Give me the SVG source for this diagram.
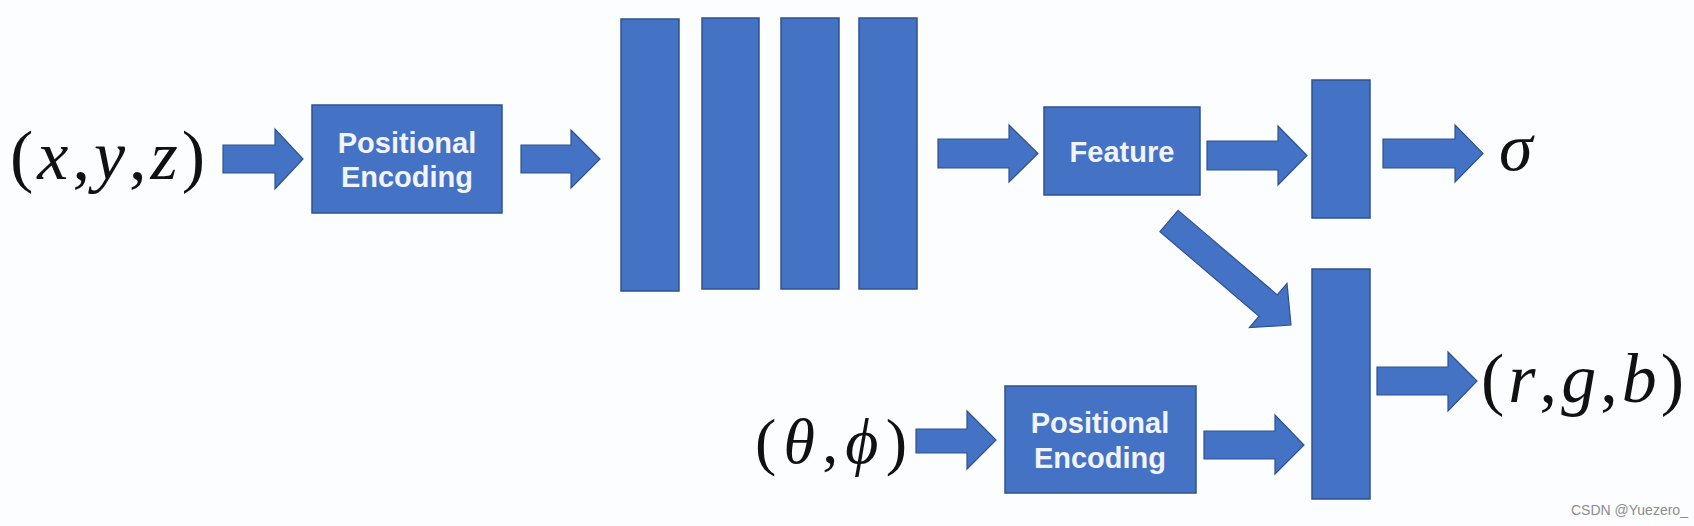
<svg xmlns="http://www.w3.org/2000/svg" width="1694" height="526" viewBox="0 0 1694 526">
<style>
.blk{fill:#4472C4;stroke:#2F528F;stroke-width:1.5}
.arr{fill:#4472C4;stroke:#2F528F;stroke-width:1.2}
.lbl{font-family:"Liberation Sans",Arial,sans-serif;font-weight:bold;font-size:29px;fill:#F2F4FA;text-anchor:middle}
.math{font-family:"Liberation Serif","Times New Roman",serif;fill:#111}
.it{font-style:italic}
.wm{font-family:"Liberation Sans",Arial,sans-serif;font-size:14px;fill:#8c8c8c}
</style>
<rect x="0" y="0" width="1694" height="526" fill="#fcfdfe"/>

<g id="in-xyz"><text class="math" x="10" y="179" font-size="70" textLength="195" lengthAdjust="spacing">(<tspan class="it">x</tspan>,<tspan class="it">y</tspan>,<tspan class="it">z</tspan>)</text></g>

<g id="pe1"><rect class="blk" x="312" y="105" width="190" height="108"/>
<text class="lbl" x="407" y="153">Positional</text>
<text class="lbl" x="407" y="187">Encoding</text></g>

<g id="mlp">
<rect class="blk" x="621" y="19" width="58" height="272"/>
<rect class="blk" x="702" y="18" width="57" height="271"/>
<rect class="blk" x="781" y="18" width="58" height="271"/>
<rect class="blk" x="859" y="18" width="58" height="271"/>
</g>

<g id="feature"><rect class="blk" x="1044" y="107" width="156" height="88"/>
<text class="lbl" x="1122" y="162">Feature</text></g>

<g id="sigma-layer"><rect class="blk" x="1312" y="80" width="58" height="138"/></g>
<g id="sigma"><text class="math it" x="1499" y="170" font-size="68">σ</text></g>

<g id="rgb-layer"><rect class="blk" x="1312" y="269" width="58" height="230"/></g>
<g id="out-rgb"><text class="math" x="1481" y="402" font-size="70" textLength="203" lengthAdjust="spacing">(<tspan class="it">r</tspan>,<tspan class="it">g</tspan>,<tspan class="it">b</tspan>)</text></g>

<g id="in-dir"><text class="math" x="755" y="463" font-size="64" textLength="152" lengthAdjust="spacing">(<tspan class="it">θ</tspan>,<tspan class="it">ϕ</tspan>)</text></g>

<g id="pe2"><rect class="blk" x="1005" y="386" width="191" height="107"/>
<text class="lbl" x="1100" y="433">Positional</text>
<text class="lbl" x="1100" y="468">Encoding</text></g>

<g id="connectors">
<polygon class="arr" points="223,145 275,145 275,129 303,159 275,189 275,173 223,173"/>
<polygon class="arr" points="521,145 571,145 571,130 600,159 571,188 571,173 521,173"/>
<polygon class="arr" points="938,139 1009,139 1009,125 1038,153.5 1009,182 1009,168 938,168"/>
<polygon class="arr" points="1207,141 1278,141 1278,126 1307,155.5 1278,185 1278,170 1207,170"/>
<polygon class="arr" points="1383,139 1455,139 1455,125 1483,153.5 1455,182 1455,168 1383,168"/>
<polygon class="arr" points="1178.1,210.4 1277.3,294.9 1287,283.4 1291,325 1249.4,327.6 1259.1,316.2 1159.9,231.7"/>
<polygon class="arr" points="916,429 967,429 967,411 996,440 967,469 967,453 916,453"/>
<polygon class="arr" points="1204,431 1275,431 1275,415 1304,445 1275,474 1275,459 1204,459"/>
<polygon class="arr" points="1377,367 1448,367 1448,352 1477,381 1448,411 1448,395 1377,395"/>
</g>

<text class="wm" x="1571" y="515">CSDN @Yuezero_</text>
</svg>
